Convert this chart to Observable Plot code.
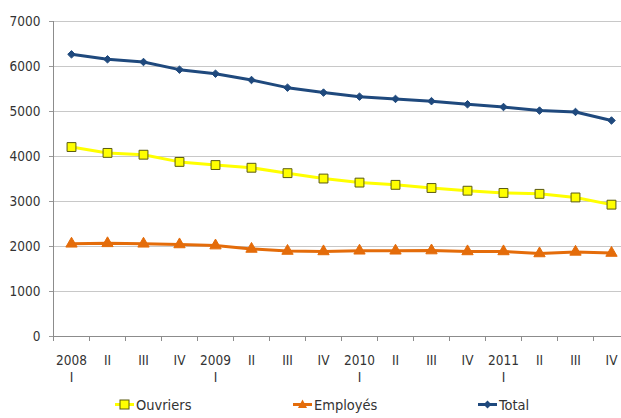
<!DOCTYPE html>
<html>
<head>
<meta charset="utf-8">
<script src="https://cdn.jsdelivr.net/npm/d3@7"></script>
<script src="https://cdn.jsdelivr.net/npm/@observablehq/plot@0.6"></script>
<style>
  html, body { margin: 0; padding: 0; background: white; overflow: hidden; }
  #wrap { position: relative; width: 621px; height: 418px; overflow: hidden;
          font-family: "DejaVu Sans Condensed", "Liberation Sans Narrow", sans-serif; color: #333; }
  #legend { position: absolute; left: 0; top: 392px; width: 621px; height: 26px; font-size: 14.5px; }
  .item { position: absolute; top: 0; display: flex; align-items: center; height: 26px; }
  .item svg { display: block; }
</style>
</head>
<body>
<div id="wrap">
  <div id="chart"></div>
  <div id="legend"></div>
</div>
<script>
const labelsTop = ["2008","II","III","IV","2009","II","III","IV","2010","II","III","IV","2011","II","III","IV"];
const labelsBottom = ["I","","","","I","","","","I","","","","I","","",""];
const ouvriers = [4210,4080,4040,3880,3810,3750,3630,3510,3420,3370,3300,3240,3190,3170,3090,2930];
const employes = [2060,2070,2060,2045,2020,1945,1900,1890,1905,1905,1910,1890,1890,1845,1880,1855];
const total = [6270,6160,6100,5930,5840,5700,5530,5420,5330,5280,5230,5160,5100,5020,4990,4800];
const yTicks = [0,1000,2000,3000,4000,5000,6000,7000];
const seriesNames = ["Ouvriers","Employés","Total"];
const colors = {Ouvriers: "#FFFF00", "Employés": "#E46C0A", Total: "#1F497D"};

const idx = labelsTop.map((_, i) => i);
const rows = (vals) => vals.map((v, i) => ({i, v}));
const rO = rows(ouvriers), rE = rows(employes), rT = rows(total);
const bounds = idx.map(i => i - 0.5).concat([idx.length - 0.5]);

const chart = Plot.plot({
  width: 621, height: 392,
  marginLeft: 53, marginRight: -8, marginTop: 21, marginBottom: 56,
  style: {fontFamily: "'DejaVu Sans Condensed', 'Liberation Sans Narrow', sans-serif", fontSize: "13.5px", color: "#333", background: "white"},
  x: {type: "linear", domain: [-0.5, idx.length - 0.5]},
  y: {domain: [0, 7000]},
  marks: [
    Plot.gridY(yTicks.slice(1), {stroke: "#c8c8c8", strokeOpacity: 1}),
    Plot.axisY({ticks: yTicks, tickSize: 4, tickPadding: 9, stroke: "#999", tickFormat: d3.format("d"), label: null}),
    Plot.ruleX([-0.5], {stroke: "#8c8c8c"}),
    Plot.ruleY([0], {stroke: "#8c8c8c"}),
    Plot.axisX({ticks: bounds, tickSize: 5, tickFormat: () => "", stroke: "#8c8c8c", label: null}),
    Plot.axisX({ticks: idx, tickSize: 0, tickPadding: 19, tickFormat: i => labelsTop[i], label: null}),
    Plot.axisX({ticks: idx.filter(i => labelsBottom[i]), tickSize: 0, tickPadding: 36, tickFormat: i => labelsBottom[i], label: null}),
    Plot.line(rT, {x: "i", y: "v", stroke: colors.Total, strokeWidth: 3}),
    Plot.line(rO, {x: "i", y: "v", stroke: colors.Ouvriers, strokeWidth: 3}),
    Plot.line(rE, {x: "i", y: "v", stroke: colors["Employés"], strokeWidth: 3}),
    Plot.dot(rT, {x: "i", y: "v", symbol: "diamond2", r: 3.4, fill: colors.Total, stroke: colors.Total, strokeWidth: 1}),
    Plot.dot(rO, {x: "i", y: "v", symbol: "square", r: 5, fill: colors.Ouvriers, stroke: "#5a5a10", strokeWidth: 1}),
    Plot.dot(rE, {x: "i", y: "v", symbol: "triangle", r: 4.2, fill: colors["Employés"], stroke: colors["Employés"], strokeWidth: 1})
  ]
});
document.getElementById("chart").appendChild(chart);

// legend
const legendPos = {Ouvriers: 115, "Employés": 293, Total: 478};
const legend = document.getElementById("legend");
for (const name of seriesNames) {
  const c = colors[name];
  let marker;
  if (name === "Ouvriers") marker = `<rect x="5" y="8" width="9" height="9" fill="${c}" stroke="#5a5a10" stroke-width="1"/>`;
  else if (name === "Employés") marker = `<path d="M9.5,7.5 L14,16 L5,16 Z" fill="${c}"/>`;
  else marker = `<path d="M9.5,8.5 L13.5,12.5 L9.5,16.5 L5.5,12.5 Z" fill="${c}"/>`;
  const div = document.createElement("div");
  div.className = "item";
  div.style.left = legendPos[name] + "px";
  div.innerHTML = `<svg width="19" height="26"><line x1="0" x2="19" y1="12.5" y2="12.5" stroke="${c}" stroke-width="3"/>${marker}</svg><span style="margin-left:2px">${name}</span>`;
  legend.appendChild(div);
}
</script>
</body>
</html>
